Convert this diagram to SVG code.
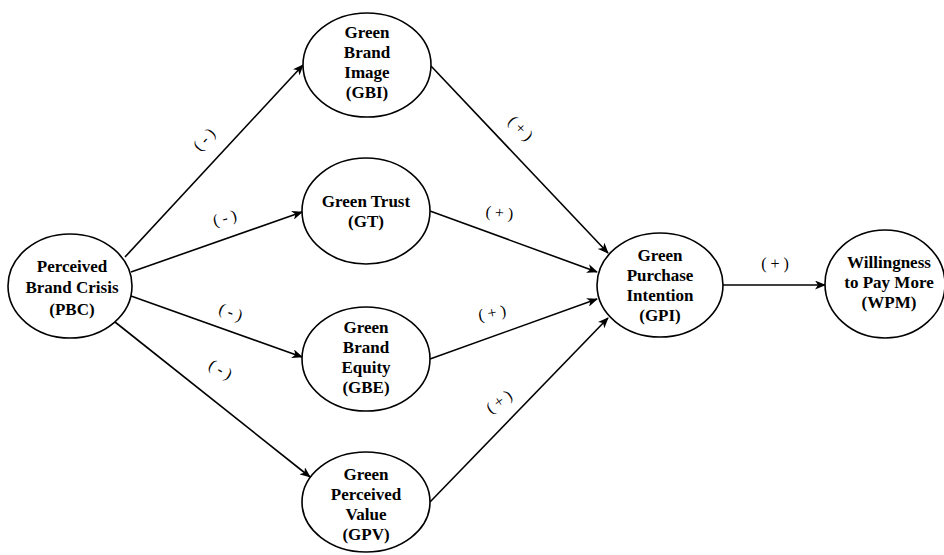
<svg xmlns="http://www.w3.org/2000/svg" width="944" height="555" viewBox="0 0 944 555">
<defs>
<marker id="ah" markerWidth="11" markerHeight="9" refX="10" refY="4.5" orient="auto" markerUnits="userSpaceOnUse">
<path d="M0,0 L11,4.5 L0,9 L3,4.5 Z" fill="#000"/>
</marker>
<style>
.n ellipse{fill:#fff;stroke:#000;stroke-width:1.6}
.n text{font-family:"Liberation Serif",serif;font-weight:bold;font-size:17px;text-anchor:middle;fill:#000}
.c line{stroke:#000;stroke-width:1.6;marker-end:url(#ah)}
.lb{font-family:"Liberation Serif",serif;font-size:16px;text-anchor:middle;fill:#000}
</style>
</defs>
<rect width="944" height="555" fill="#fff"/>
<g class="c" id="connectors">
<line x1="125" y1="257" x2="303" y2="65"/>
<line x1="131" y1="272" x2="302" y2="212"/>
<line x1="131" y1="296" x2="302" y2="357"/>
<line x1="115" y1="322" x2="310" y2="477"/>
<line x1="431" y1="66" x2="608" y2="253"/>
<line x1="430" y1="211" x2="597" y2="272"/>
<line x1="430" y1="359" x2="597" y2="299"/>
<line x1="430" y1="502" x2="608" y2="318"/>
<line x1="723" y1="285" x2="825" y2="285"/>
</g>
<g id="labels">
<text class="lb" transform="translate(208,143) rotate(-47)">( - )</text>
<text class="lb" transform="translate(226,223) rotate(-15)">( - )</text>
<text class="lb" transform="translate(229,317) rotate(20)">( - )</text>
<text class="lb" transform="translate(218,374) rotate(30)">( - )</text>
<text class="lb" transform="translate(517,132) rotate(45)">( + )</text>
<text class="lb" transform="translate(499,218) rotate(5)">( + )</text>
<text class="lb" transform="translate(493,318) rotate(-10)">( + )</text>
<text class="lb" transform="translate(502,406) rotate(-35)">( + )</text>
<text class="lb" x="775" y="269">( + )</text>
</g>
<g class="n" id="PBC"><ellipse cx="70" cy="286" rx="62" ry="52"/>
<text x="72" y="272">Perceived</text><text x="72" y="293">Brand Crisis</text><text x="72" y="315">(PBC)</text></g>
<g class="n" id="GBI"><ellipse cx="367" cy="65" rx="64" ry="52"/>
<text x="367" y="38">Green</text><text x="367" y="58">Brand</text><text x="367" y="78">Image</text><text x="367" y="98">(GBI)</text></g>
<g class="n" id="GT"><ellipse cx="366" cy="211" rx="64" ry="53"/>
<text x="366" y="207">Green Trust</text><text x="366" y="227">(GT)</text></g>
<g class="n" id="GBE"><ellipse cx="366" cy="359" rx="64" ry="52"/>
<text x="366" y="333">Green</text><text x="366" y="353">Brand</text><text x="366" y="373">Equity</text><text x="366" y="393">(GBE)</text></g>
<g class="n" id="GPV"><ellipse cx="366" cy="502" rx="64" ry="50"/>
<text x="366" y="480">Green</text><text x="366" y="500">Perceived</text><text x="366" y="520">Value</text><text x="366" y="540">(GPV)</text></g>
<g class="n" id="GPI"><ellipse cx="660" cy="285" rx="63" ry="52"/>
<text x="660" y="261">Green</text><text x="660" y="281">Purchase</text><text x="660" y="301">Intention</text><text x="660" y="321">(GPI)</text></g>
<g class="n" id="WPM"><ellipse cx="885" cy="284" rx="60" ry="54"/>
<text x="889" y="268">Willingness</text><text x="889" y="288">to Pay More</text><text x="889" y="308">(WPM)</text></g>
</svg>
